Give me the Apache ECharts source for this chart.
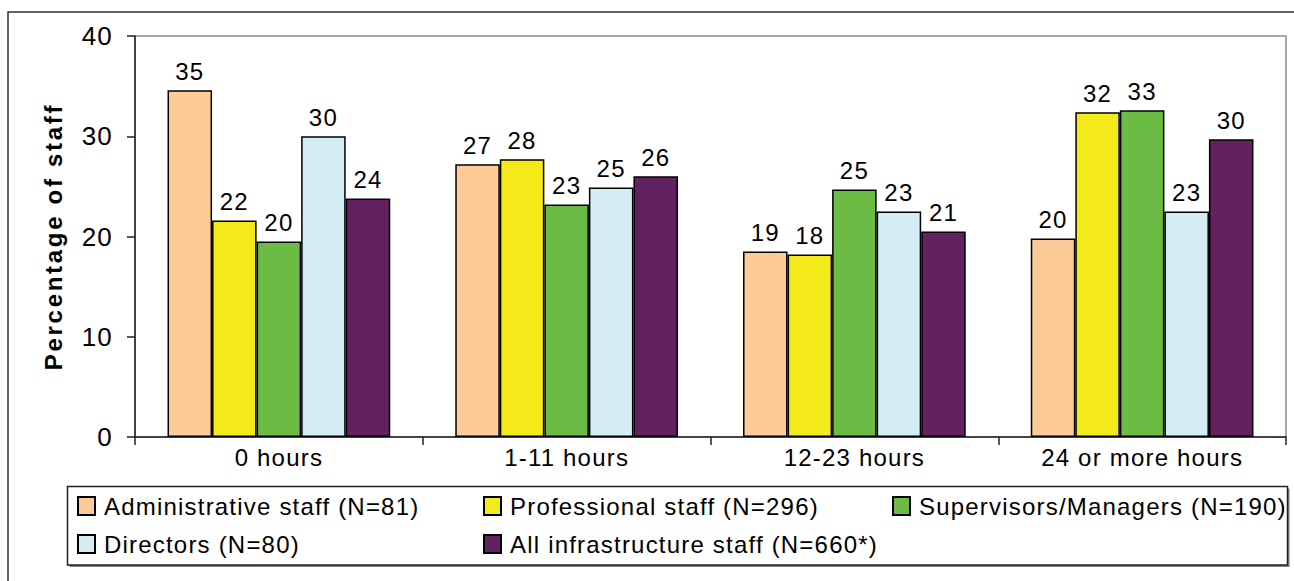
<!DOCTYPE html>
<html>
<head>
<meta charset="utf-8">
<script src="https://cdn.jsdelivr.net/npm/echarts@6/dist/echarts.min.js"></script>
<style>
  html, body { margin: 0; padding: 0; background: #fff; }
  #chart { width: 1294px; height: 581px; }
  #chart text { letter-spacing: 1.2px; }
</style>
</head>
<body>
<div id="chart"></div>
<script>
// Hours of training per year, by staff group (percentage of staff)
const categories = ['0 hours', '1-11 hours', '12-23 hours', '24 or more hours'];
const seriesNames = [
  'Administrative staff (N=81)',
  'Professional staff (N=296)',
  'Supervisors/Managers (N=190)',
  'Directors (N=80)',
  'All infrastructure staff (N=660*)'
];
const adminStaff          = [34.6, 27.2, 18.5, 19.8];
const professionalStaff   = [21.6, 27.7, 18.2, 32.4];
const supervisorsManagers = [19.5, 23.2, 24.7, 32.6];
const directors           = [30.0, 24.9, 22.5, 22.5];
const allInfrastructure   = [23.8, 26.0, 20.5, 29.7];
const yTicks = [0, 10, 20, 30, 40];
const yAxisTitle = 'Percentage of staff';

const seriesValues = [adminStaff, professionalStaff, supervisorsManagers, directors, allInfrastructure];
const seriesColors = ['#FDCB98', '#F4EA19', '#6CBB45', '#D4ECF4', '#632162'];

const FONT = "'Liberation Sans', Arial, sans-serif";

// legend item slots: two rows, second row aligned under the first two columns
const legendLeft = [77, 483, 892, 77, 483];
const legendTop  = [494, 494, 494, 532, 532];

const chart = echarts.init(document.getElementById('chart'), null, { renderer: 'svg' });

const option = {
  animation: false,
  backgroundColor: '#fff',
  textStyle: { fontFamily: FONT, color: '#000' },
  graphic: [
    // outer frame
    { type: 'rect', silent: true, z: -10,
      shape: { x: 8, y: 12, width: 1400, height: 700 },
      style: { fill: 'none', stroke: '#333', lineWidth: 1.5 } },
    // legend box shadow
    { type: 'rect', silent: true, z: -5,
      shape: { x: 69.5, y: 488.5, width: 1220, height: 78.5 },
      style: { fill: '#7f7f7f' } },
    // legend box
    { type: 'rect', silent: true, z: -4,
      shape: { x: 67.5, y: 486.5, width: 1220, height: 78.5 },
      style: { fill: '#fff', stroke: '#222', lineWidth: 1.5 } }
  ],
  grid: {
    left: 135, right: 8, top: 36, bottom: 144,
    show: true, borderColor: '#8a8a8a', borderWidth: 1.5, backgroundColor: 'transparent'
  },
  legend: seriesNames.map((name, i) => ({
    data: [name],
    left: legendLeft[i],
    top: legendTop[i],
    padding: 0,
    itemWidth: 17,
    itemHeight: 18,
    selectedMode: false,
    icon: 'rect',
    textStyle: { fontSize: 24, color: '#000', fontFamily: FONT, padding: [0, 0, 0, 4] }
  })),
  xAxis: {
    type: 'category',
    data: categories,
    axisLine: { lineStyle: { color: '#222', width: 1.5 } },
    axisTick: { show: true, length: 8, lineStyle: { color: '#222', width: 1.5 } },
    axisLabel: { fontSize: 24, color: '#000', margin: 8, fontFamily: FONT }
  },
  yAxis: {
    type: 'value',
    min: yTicks[0],
    max: yTicks[yTicks.length - 1],
    interval: yTicks[1] - yTicks[0],
    splitLine: { show: false },
    axisLine: { show: true, lineStyle: { color: '#222', width: 1.5 } },
    axisTick: { show: true, length: 8, lineStyle: { color: '#222', width: 1.5 } },
    axisLabel: { fontSize: 26, color: '#000', margin: 22, padding: [10, 0, 0, 0], fontFamily: FONT },
    name: yAxisTitle,
    nameLocation: 'middle',
    nameGap: 70,
    nameTextStyle: { fontSize: 24, fontWeight: 'bold', color: '#000', fontFamily: FONT }
  },
  series: seriesNames.map((name, i) => ({
    name: name,
    type: 'bar',
    data: seriesValues[i],
    barGap: '0%',
    barCategoryGap: '22.6%',
    itemStyle: { color: seriesColors[i], borderColor: '#000', borderWidth: 1.5 },
    label: {
      show: true,
      position: 'top',
      distance: 7,
      fontSize: 24,
      color: '#000',
      fontFamily: FONT,
      formatter: p => String(Math.round(p.value))
    }
  }))
};

chart.setOption(option);

// widen the spacing of the rotated axis title
function spaceTitle() {
  document.querySelectorAll('#chart text').forEach(t => {
    if (t.textContent === yAxisTitle) t.style.letterSpacing = '2.7px';
  });
}
spaceTitle();
chart.on('finished', spaceTitle);
</script>
</body>
</html>
